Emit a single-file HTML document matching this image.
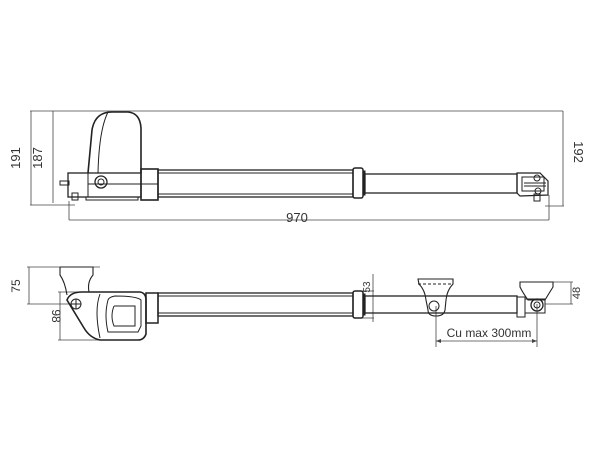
<!DOCTYPE html>
<html><head><style>body{margin:0;background:#fff}svg{display:block}text{font-family:"Liberation Sans",sans-serif;fill:#333}</style></head>
<body>
<svg width="600" height="450" viewBox="0 0 600 450" xmlns="http://www.w3.org/2000/svg" fill="none" stroke="#222" stroke-width="1">
<!-- TOP VIEW dims -->
<g stroke="#444" stroke-width="0.8">
<line x1="30" y1="111" x2="563" y2="111"/>
<line x1="31" y1="111" x2="31" y2="205"/>
<line x1="30" y1="205" x2="75" y2="205"/>
<line x1="53" y1="111" x2="53" y2="203"/>
<line x1="563" y1="111" x2="563" y2="206"/>
<line x1="545" y1="206" x2="564" y2="206"/>
<line x1="69" y1="201" x2="69" y2="220"/>
<line x1="69" y1="220" x2="549" y2="220"/>
<line x1="549" y1="195" x2="549" y2="220"/>
</g>
<text x="20" y="158" font-size="13" transform="rotate(-90 20 158)" text-anchor="middle" stroke="none">191</text>
<text x="42" y="158" font-size="13" transform="rotate(-90 42 158)" text-anchor="middle" stroke="none">187</text>
<text x="574" y="152" font-size="13" transform="rotate(90 574 152)" text-anchor="middle" stroke="none">192</text>
<text x="297" y="222" font-size="13" text-anchor="middle" stroke="none">970</text>
<!-- motor top -->
<path d="M88 173 L92 130 Q95 112 112 112 L128 112 Q140 113 141 128 L141 173" stroke-width="1.6"/>
<path d="M108 112 Q99 130 98 173"/>
<rect x="68" y="173" width="73" height="24" stroke-width="1.3"/>
<line x1="88" y1="173" x2="88" y2="197"/>
<line x1="88" y1="184" x2="141" y2="184"/>
<circle cx="101" cy="182" r="6" stroke-width="1.3"/><circle cx="101" cy="182" r="3"/>
<rect x="60" y="181" width="9" height="4"/>
<rect x="72" y="193" width="6" height="7"/>
<path d="M86 197 L86 200 L138 200 L138 197"/>
<rect x="141" y="169" width="17" height="31" stroke-width="1.6"/>
<line x1="141" y1="184" x2="158" y2="184"/>
<!-- outer tube -->
<rect x="158" y="170" width="195" height="27" stroke-width="1.3"/>
<line x1="158" y1="173" x2="353" y2="173"/><line x1="158" y1="194" x2="353" y2="194"/>
<rect x="353" y="168" width="10" height="30" rx="2" stroke-width="1.5"/>
<rect x="363" y="171" width="2" height="24" fill="#222"/>
<!-- inner tube -->
<rect x="365" y="174" width="152" height="19" stroke-width="1.3"/>
<path d="M517 173 L540 173 L548 181 L548 195 L520 196 L517 193 Z" stroke-width="1.2"/>
<rect x="522" y="177" width="22" height="14"/>
<line x1="524" y1="183" x2="546" y2="183"/><line x1="524" y1="186" x2="546" y2="186"/>
<circle cx="537" cy="178" r="3"/><circle cx="538" cy="191" r="3"/>
<rect x="534" y="194" width="6" height="7"/>
<!-- BOTTOM VIEW dims -->
<g stroke="#444" stroke-width="0.8">
<line x1="27" y1="267" x2="100" y2="267"/>
<line x1="29" y1="267" x2="29" y2="304"/>
<line x1="27" y1="304" x2="72" y2="304"/>
<line x1="58" y1="292" x2="80" y2="292"/>
<line x1="60" y1="292" x2="60" y2="340"/>
<line x1="58" y1="340" x2="100" y2="340"/>
<line x1="373" y1="274" x2="373" y2="322"/>
<line x1="360" y1="291" x2="374" y2="291"/>
<line x1="360" y1="318" x2="374" y2="318"/>
<line x1="571" y1="282" x2="571" y2="304"/>
<line x1="550" y1="282" x2="573" y2="282"/>
<line x1="545" y1="304" x2="573" y2="304"/>
<line x1="436" y1="306" x2="436" y2="347"/>
<line x1="537" y1="304" x2="537" y2="347"/>
<line x1="436" y1="341" x2="537" y2="341"/>
</g>
<path d="M436 341 l5 -2 v4 Z M537 341 l-5 -2 v4 Z" fill="#444" stroke="none"/>
<text x="20" y="286" font-size="12" transform="rotate(-90 20 286)" text-anchor="middle" stroke="none">75</text>
<text x="52" y="316" font-size="12" transform="rotate(90 52 316)" text-anchor="middle" stroke="none">98</text>
<text x="370" y="287" font-size="10" transform="rotate(-90 370 287)" text-anchor="middle" stroke="none">53</text>
<text x="580" y="293" font-size="11" transform="rotate(-90 580 293)" text-anchor="middle" stroke="none">48</text>
<text x="489" y="337" font-size="12" text-anchor="middle" stroke="none">Cu max 300mm</text>
<!-- bracket left -->
<path d="M60 267 L93 267 L93 275 Q87 282 89 292 M60 267 L60 275 Q65 282 67 295" stroke-width="1.1"/>
<!-- motor bottom -->
<path d="M67 300 Q70 292 82 292 L140 292 Q146 293 146 300 L146 334 Q144 340 138 340 L100 340 Q90 338 84 328 Z" stroke-width="1.6"/>
<path d="M100 294 Q94 310 100 338"/>
<path d="M108 300 Q104 315 108 332 L138 332 L141 326 L141 300 Q136 296 115 296 Q109 297 108 300"/>
<path d="M114 306 L135 306 L135 326 L114 326 Q110 316 114 306"/>
<circle cx="76" cy="304" r="5"/><line x1="71" y1="304" x2="81" y2="304"/><line x1="76" y1="299" x2="76" y2="309"/>
<rect x="146" y="293" width="12" height="30" stroke-width="1.5"/>
<rect x="158" y="293" width="195" height="23" stroke-width="1.3"/>
<line x1="158" y1="296" x2="353" y2="296"/><line x1="158" y1="313" x2="353" y2="313"/>
<rect x="353" y="291" width="10" height="27" rx="2" stroke-width="1.5"/>
<rect x="363" y="294" width="2" height="21" fill="#222"/>
<rect x="365" y="296" width="152" height="17" stroke-width="1.3"/>
<!-- middle bracket -->
<path d="M418 279 L453 279 L453 284 Q447 290 446 300 L445 310 Q444 316 436 316 Q428 316 428 310 L426 300 Q425 290 419 284 Z" stroke-width="1.1"/>
<line x1="418" y1="284" x2="453" y2="284" stroke-dasharray="3 2"/>
<circle cx="434" cy="306" r="5"/>
<!-- end bracket -->
<path d="M520 282 L553 282 L553 287 Q548 295 545 300 L528 300 Q523 293 520 287 Z" stroke-width="1.1"/>
<rect x="517" y="297" width="8" height="20"/>
<rect x="525" y="299" width="20" height="14"/>
<circle cx="537" cy="305" r="6" stroke-width="1.3"/><circle cx="537" cy="305" r="3"/>
</svg>
</body></html>
